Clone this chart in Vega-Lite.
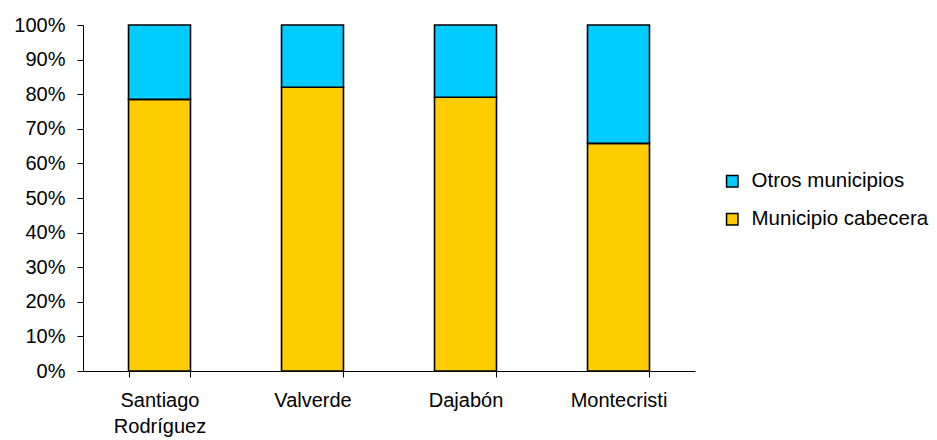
{
  "$schema": "https://vega.github.io/schema/vega-lite/v6.json",
  "width": 612,
  "height": 346,
  "autosize": {"type": "none"},
  "padding": {"left": 83, "top": 25, "right": 242, "bottom": 69},
  "background": "white",
  "config": {
    "view": {"stroke": null},
    "font": "Liberation Sans",
    "axis": {"grid": false, "domainColor": "black", "tickColor": "black", "labelColor": "black", "labelFont": "Liberation Sans"},
    "legend": {"labelFont": "Liberation Sans", "labelColor": "black"}
  },
  "data": {
    "values": [
      {"provincia": "Santiago Rodríguez", "tipo": "Municipio cabecera", "valor": 0.785},
      {"provincia": "Santiago Rodríguez", "tipo": "Otros municipios", "valor": 0.215},
      {"provincia": "Valverde", "tipo": "Municipio cabecera", "valor": 0.82},
      {"provincia": "Valverde", "tipo": "Otros municipios", "valor": 0.18},
      {"provincia": "Dajabón", "tipo": "Municipio cabecera", "valor": 0.791},
      {"provincia": "Dajabón", "tipo": "Otros municipios", "valor": 0.209},
      {"provincia": "Montecristi", "tipo": "Municipio cabecera", "valor": 0.658},
      {"provincia": "Montecristi", "tipo": "Otros municipios", "valor": 0.342}
    ]
  },
  "mark": {"type": "bar", "stroke": "black", "strokeWidth": 1.6},
  "encoding": {
    "x": {
      "field": "provincia",
      "type": "nominal",
      "sort": ["Santiago Rodríguez", "Valverde", "Dajabón", "Montecristi"],
      "scale": {"paddingInner": 0.595, "paddingOuter": 0.2975},
      "axis": {
        "title": null,
        "labelAngle": 0,
        "labelFontSize": 20,
        "labelPadding": 13,
        "tickSize": 6,
        "tickBand": "extent",
        "labelLineHeight": 26,
        "labelExpr": "datum.value == 'Santiago Rodríguez' ? ['Santiago', 'Rodríguez'] : datum.label"
      }
    },
    "y": {
      "field": "valor",
      "type": "quantitative",
      "stack": "zero",
      "scale": {"domain": [0, 1]},
      "axis": {
        "title": null,
        "format": ".0%",
        "values": [0, 0.1, 0.2, 0.3, 0.4, 0.5, 0.6, 0.7, 0.8, 0.9, 1],
        "labelFontSize": 20,
        "labelPadding": 12,
        "tickSize": 6
      }
    },
    "color": {
      "field": "tipo",
      "type": "nominal",
      "scale": {"domain": ["Otros municipios", "Municipio cabecera"], "range": ["#00CCFF", "#FFCC00"]},
      "legend": {
        "title": null,
        "orient": "none",
        "legendX": 639,
        "legendY": 146,
        "padding": 0,
        "symbolType": "square",
        "symbolSize": 130,
        "symbolStrokeColor": "black",
        "symbolStrokeWidth": 1.5,
        "labelFontSize": 20.5,
        "labelOffset": 9,
        "labelLimit": 0,
        "rowPadding": 17,
        "labelExpr": "datum.value == 'Municipio cabecera' ? '\u00a0' + datum.label : datum.label"
      }
    },
    "order": {"field": "tipo", "sort": "ascending"}
  }
}
